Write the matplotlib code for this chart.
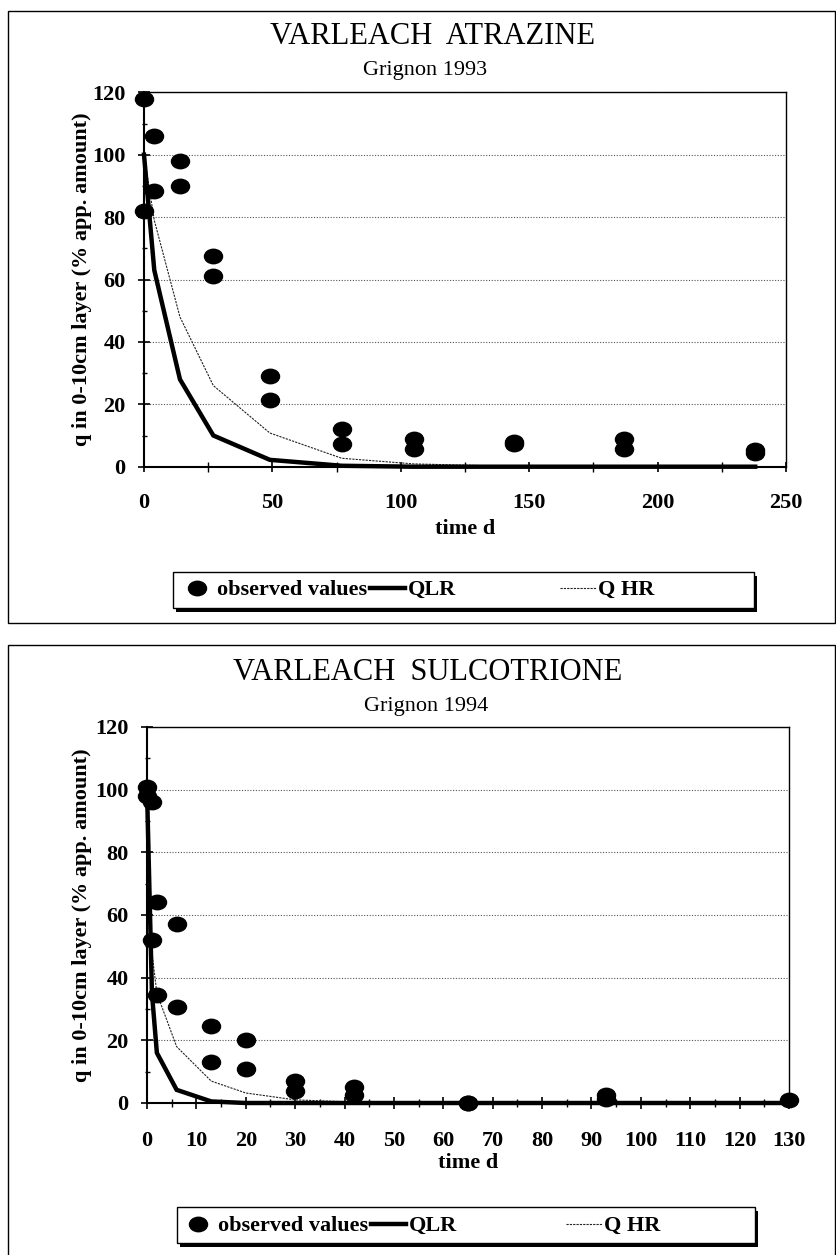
import matplotlib
matplotlib.use("Agg")
import matplotlib.pyplot as plt
from matplotlib.path import Path
from matplotlib.markers import MarkerStyle
from matplotlib.transforms import Affine2D
from matplotlib.patches import Rectangle
from matplotlib.lines import Line2D
from matplotlib.ticker import MultipleLocator

# ---------------- data ----------------
atr_obs_days = [0, 0, 4, 4, 14, 14, 27, 27, 49, 49, 77, 77, 105, 105, 144, 144, 187, 187, 238, 238]
atr_obs_vals = [118, 82, 106, 88.5, 98, 90, 67.5, 61, 29, 21.5, 12, 7.2, 8.8, 5.7, 8, 7.2, 8.8, 5.8, 5.2, 4.5]
atr_model_days = [0, 4, 14, 27, 49, 77, 105, 144, 187, 238]
atr_qlr = [100, 63, 28, 10, 2.2, 0.3, 0, 0, 0, 0]
atr_qhr = [100, 79, 48, 26, 10.8, 2.7, 0.9, 0.1, 0, 0]

sul_obs_days = [0, 0, 1, 1, 2, 2, 6, 6, 13, 13, 20, 20, 30, 30, 42, 42, 65, 65, 93, 93, 130]
sul_obs_vals = [101, 98, 96, 52, 64, 34.5, 57, 30.5, 24.5, 13, 20, 10.8, 7, 3.8, 5, 2.5, 0, 0, 2.5, 1.2, 1]
sul_model_days = [0, 1, 2, 6, 13, 20, 30, 42, 65, 93, 130]
sul_qlr = [100, 35, 16, 4.2, 0.5, 0, 0, 0, 0, 0, 0]
sul_qhr = [100, 48, 35, 18, 7, 3.2, 1, 0.3, 0, 0, 0]

titles = ["VARLEACH  ATRAZINE", "VARLEACH  SULCOTRIONE"]
subtitles = ["Grignon 1993", "Grignon 1994"]
y_label = "q in 0-10cm layer (% app. amount)"
x_label = "time d"
legend_labels = ["observed values", "QLR", "Q HR"]

# ---------------- figure ----------------
plt.rcParams['font.family'] = ['Liberation Serif', 'DejaVu Serif']
plt.rcParams['font.weight'] = 'bold'

W, H = 836, 1255
fig = plt.figure(figsize=(W / 100, H / 100), dpi=100)


def fx(x):
    return x / W


def fy(y):
    return 1 - y / H


ellipse = MarkerStyle(Path.unit_circle().transformed(Affine2D().scale(1.0, 0.8)))

panels = [
    dict(ax=(144, 786, 92.3, 466.7), xmax=250, xmaj=50, xmin=25, xmaj_len=6.5, xmin_len=6.5,
         days=atr_obs_days, obs=atr_obs_vals, mdays=atr_model_days, qlr=atr_qlr, qhr=atr_qhr,
         title=titles[0], sub=subtitles[0], title_xy=(432, 36), sub_xy=(425, 70),
         frame=(8, 835, 11, 623), xlab_y=519,
         leg_box=(173, 754, 572, 608), leg_y=590, legA_x=179, legB_x=560),
    dict(ax=(147, 789, 727, 1103), xmax=130, xmaj=10, xmin=5, xmaj_len=8.6, xmin_len=5.5,
         days=sul_obs_days, obs=sul_obs_vals, mdays=sul_model_days, qlr=sul_qlr, qhr=sul_qhr,
         title=titles[1], sub=subtitles[1], title_xy=(428, 673), sub_xy=(426, 707),
         frame=(8, 835, 645, 1300), xlab_y=1153,
         leg_box=(177, 755, 1207, 1243), leg_y=1226, legA_x=180, legB_x=566),
]

for p in panels:
    l, r, t, b = p['ax']
    ax = fig.add_axes([fx(l), fy(b), fx(r) - fx(l), fy(t) - fy(b)])
    ax.set_xlim(0, p['xmax'])
    ax.set_ylim(0, 120)
    ax.xaxis.set_major_locator(MultipleLocator(p['xmaj']))
    ax.xaxis.set_minor_locator(MultipleLocator(p['xmin']))
    ax.yaxis.set_major_locator(MultipleLocator(20))
    ax.yaxis.set_minor_locator(MultipleLocator(10))
    ax.grid(axis='y', which='major', linestyle=(0, (1, 1.5)), color='#555555', linewidth=0.8)
    ax.set_axisbelow(True)

    ax.tick_params(axis='y', which='major', direction='inout', length=8.6, width=1.2,
                   labelsize=16, pad=9)
    ax.tick_params(axis='y', which='minor', direction='inout', length=3.6, width=1.0)
    ax.tick_params(axis='x', which='major', direction='inout', length=p['xmaj_len'], width=1.2,
                   labelsize=16, pad=16)
    ax.tick_params(axis='x', which='minor', direction='inout', length=p['xmin_len'], width=1.0)
    for s in ['left', 'bottom']:
        ax.spines[s].set_linewidth(1.5)
    for s in ['top', 'right']:
        ax.spines[s].set_linewidth(1.0)

    hr, = ax.plot(p['mdays'], p['qhr'], color='#222222', linewidth=0.8,
                  linestyle=(0, (2, 1)), clip_on=False, zorder=3)
    lr, = ax.plot(p['mdays'], p['qlr'], color='black', linewidth=3.2,
                  solid_joinstyle='miter', clip_on=False, zorder=4)
    ax.plot(p['days'], p['obs'], linestyle='none', marker=ellipse, markersize=13,
            color='black', clip_on=False, zorder=5)

    ax.set_ylabel(y_label, fontsize=16, fontweight='bold')
    ax.yaxis.set_label_coords((92 - l) / (r - l), 0.5)
    ax.set_xlabel(x_label, fontsize=16, fontweight='bold')
    ax.xaxis.set_label_coords(0.5, -(p['xlab_y'] - b) / (b - t))

    fig.text(fx(p['title_xy'][0]), fy(p['title_xy'][1]), p['title'], ha='center', va='center',
             fontsize=22, fontweight='normal')
    fig.text(fx(p['sub_xy'][0]), fy(p['sub_xy'][1]), p['sub'], ha='center', va='center',
             fontsize=16, fontweight='normal')

    # outer frame
    fl, fr, ft, fb = p['frame']
    fig.patches.append(Rectangle((fx(fl), fy(fb)), fx(fr) - fx(fl), fy(ft) - fy(fb),
                                 transform=fig.transFigure, fill=False,
                                 edgecolor='black', linewidth=1.0, zorder=0))

    # legend box with shadow
    bl, br, bt, bb = p['leg_box']
    fig.patches.append(Rectangle((fx(bl + 3), fy(bb + 3.5)), fx(br) - fx(bl), fy(bt) - fy(bb),
                                 transform=fig.transFigure, facecolor='black',
                                 edgecolor='black', linewidth=0, zorder=1))
    fig.patches.append(Rectangle((fx(bl), fy(bb)), fx(br) - fx(bl), fy(bt) - fy(bb),
                                 transform=fig.transFigure, facecolor='white',
                                 edgecolor='black', linewidth=1.0, zorder=2))

    h_obs = Line2D([], [], linestyle='none', marker=ellipse, markersize=13, color='black')
    h_lr = Line2D([], [], color='black', linewidth=3.2)
    h_hr = Line2D([], [], color='#222222', linewidth=0.8, linestyle=(0, (2, 1)))
    common = dict(frameon=False, fontsize=16, handlelength=1.6, handletextpad=0.12,
                  borderpad=0, borderaxespad=0, columnspacing=0.1,
                  bbox_transform=fig.transFigure, loc='center left')
    la = fig.legend([h_obs, h_lr], legend_labels[:2], ncol=2,
                    bbox_to_anchor=(fx(p['legA_x']), fy(p['leg_y'])), **common)
    lb = fig.legend([h_hr], legend_labels[2:], ncol=1,
                    bbox_to_anchor=(fx(p['legB_x']), fy(p['leg_y'])), **common)
    la.set_zorder(6)
    lb.set_zorder(6)

fig.savefig("out.png", dpi=100)
